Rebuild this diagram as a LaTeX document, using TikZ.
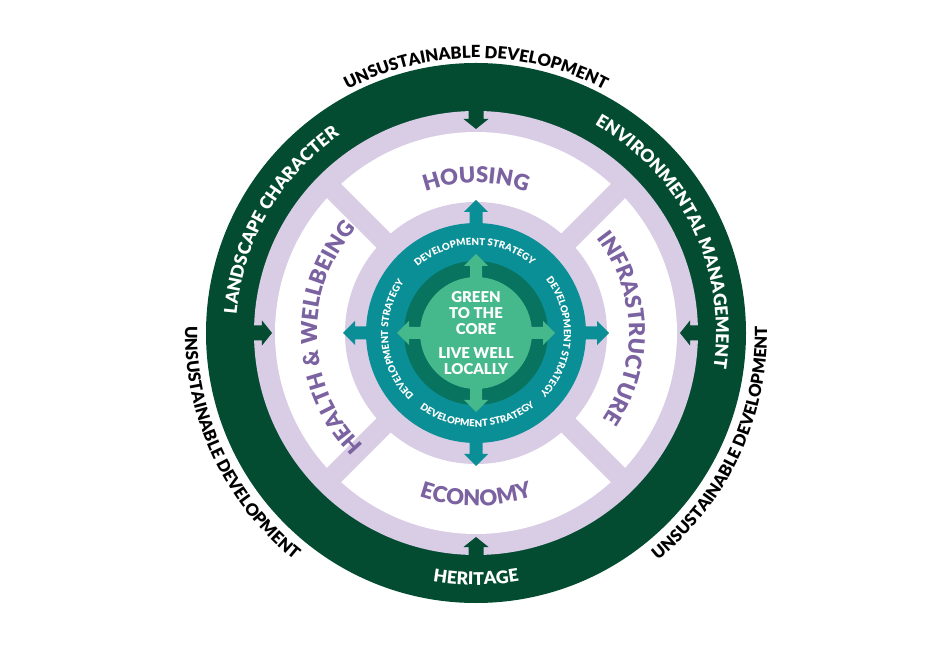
\documentclass[tikz,border=0pt]{standalone}
\usepackage{fontspec}
\setmainfont{Lato}[BoldFont={Lato Black}]
\usetikzlibrary{decorations.text}

\definecolor{ringgreen}{HTML}{034C31}
\definecolor{ringlav}{HTML}{D9CCE5}
\definecolor{sectorpurple}{HTML}{7B62A0}
\definecolor{stratteal}{HTML}{0B8F96}
\definecolor{coreteal}{HTML}{08735F}
\definecolor{coregreen}{HTML}{45B98B}

\tikzset{
  outtext/.style={decorate, decoration={text along path, text align=center,
    text={|\color{black}\bfseries\fontsize{9.5}{10}\selectfont|#1}}},
  ringtext/.style={decorate, decoration={text along path, text align=center,
    text={|\color{white}\bfseries\fontsize{10}{11}\selectfont|#1}}},
  sectortext/.style={decorate, decoration={text along path, text align=center,
    text={|\color{sectorpurple}\bfseries\fontsize{12.5}{13}\selectfont|#1}}},
  strattext/.style={decorate, decoration={text along path, text align=center,
    text={|\color{white}\bfseries\fontsize{5.5}{6}\selectfont|#1}}},
  coretext/.style={text=white, font=\bfseries\fontsize{8.5}{9.2}\selectfont, align=center, inner sep=0pt}
}

\begin{document}
\begin{tikzpicture}[x=0.2mm, y=0.2mm]
	\useasboundingbox (-476,-338) rectangle (474,333);
	
	% draw rings
	\fill[ringgreen] (0,0) circle[radius=270];
	\fill[ringlav] (0,0) circle[radius=222];
	\fill[white] (0,0) circle[radius=201];
	
	% draw spokes between the sectors
	\foreach \a in {45,135,225,315}
	\fill[ringlav, rotate=\a] (120,-10) rectangle (205,10);
	\fill[ringlav] (0,0) circle[radius=131];
	
	% draw strategy arrows and discs
	\foreach \a in {0,90,180,270}
	\fill[stratteal, rotate=\a] (100,-6.5) -- (121,-6.5) -- (121,-12) -- (133,0) -- (121,12) -- (121,6.5) -- (100,6.5) -- cycle;
	\fill[stratteal] (0,0) circle[radius=110];
	\fill[coreteal] (0,0) circle[radius=72];
	\fill[coregreen] (0,0) circle[radius=56];
	\foreach \a in {0,90,180,270}
	\fill[coregreen, rotate=\a] (0,-6) -- (67,-6) -- (67,-12) -- (79,0) -- (67,12) -- (67,6) -- (0,6) -- cycle;
	
	% draw inward arrows of the outer ring
	\foreach \a in {0,90,180,270}
	\fill[ringgreen, rotate=\a] (224,-7.5) -- (214,-7.5) -- (214,-12.5) -- (204,0) -- (214,12.5) -- (214,7.5) -- (224,7.5) -- cycle;
	
	% draw outside labels
	\path[outtext={UNSUSTAINABLE DEVELOPMENT}] (140:275) arc[start angle=140, end angle=40, radius=275];
	\path[outtext={UNSUSTAINABLE DEVELOPMENT}] (150:291) arc[start angle=150, end angle=260, radius=291];
	\path[outtext={UNSUSTAINABLE DEVELOPMENT}] (280:291) arc[start angle=280, end angle=390, radius=291];
	
	% draw ring labels
	\path[ringtext={LANDSCAPE CHARACTER}] (200:240) arc[start angle=200, end angle=100, radius=240];
	\path[ringtext={ENVIRONMENTAL MANAGEMENT}] (81:240) arc[start angle=81, end angle=-29, radius=240];
	\path[ringtext={HERITAGE}] (225:252) arc[start angle=225, end angle=315, radius=252];
	
	% draw sector labels
	\path[sectortext={HOUSING}] (135:150) arc[start angle=135, end angle=45, radius=150];
	\path[sectortext={INFRASTRUCTURE}] (57:153) arc[start angle=57, end angle=-53, radius=153];
	\path[sectortext={HEALTH {\&} WELLBEING}] (237:159) arc[start angle=237, end angle=127, radius=159];
	\path[sectortext={ECONOMY}] (225:173) arc[start angle=225, end angle=315, radius=173];
	
	% draw strategy labels
	\path[strattext={DEVELOPMENT STRATEGY}] (146:88) arc[start angle=146, end angle=36, radius=88];
	\path[strattext={DEVELOPMENT STRATEGY}] (52:88) arc[start angle=52, end angle=-58, radius=88];
	\path[strattext={DEVELOPMENT STRATEGY}] (240:88) arc[start angle=240, end angle=130, radius=88];
	\path[strattext={DEVELOPMENT STRATEGY}] (216:94) arc[start angle=216, end angle=326, radius=94];
	
	% draw core labels
	\node[coretext] (core) at (0,20) {GREEN\\TO THE\\CORE};
	\node[coretext] (local) at (0,-28) {LIVE WELL\\LOCALLY};
\end{tikzpicture}
\end{document}
